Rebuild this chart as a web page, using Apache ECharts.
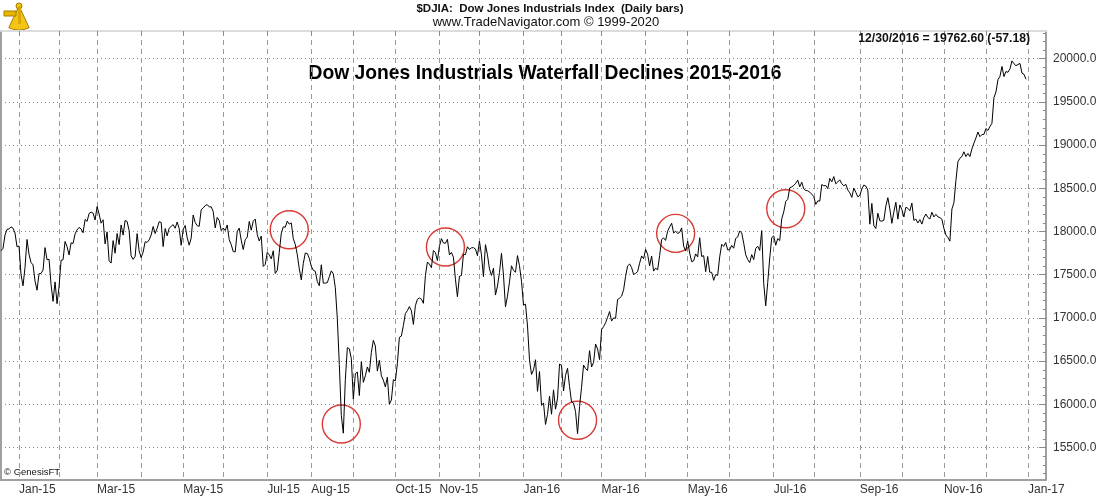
<!DOCTYPE html>
<html><head><meta charset="utf-8">
<script src="https://cdn.jsdelivr.net/npm/echarts@6/dist/echarts.min.js"></script>
<style>html,body{margin:0;padding:0;background:#fff}#c{width:1101px;height:499px}</style>
</head><body><div id="c"></div>
<script>
// ---- Daily closes, [day of month, close] per month ----
const dec14 = [[18,17778],[19,17805],[22,17959],[23,18024],[24,18030],[26,18054],[29,18038],[30,17983],[31,17823]];
const jan15 = [[2,17833],[5,17502],[6,17372],[7,17585],[8,17908],[9,17737],[12,17641],[13,17614],[14,17427],[15,17321],[16,17512],[20,17515],[21,17554],[22,17814],[23,17673],[26,17679],[27,17387],[28,17191],[29,17417],[30,17165]];
const feb15 = [[2,17361],[3,17666],[4,17673],[5,17885],[6,17824],[9,17729],[10,17869],[11,17862],[12,17972],[13,18019],[17,18048],[18,18030],[19,17986],[20,18140],[23,18117],[24,18209],[25,18225],[26,18214],[27,18133]];
const mar15 = [[2,18289],[3,18203],[4,18097],[5,18136],[6,17857],[9,17996],[10,17663],[11,17635],[12,17895],[13,17749],[16,17977],[17,17849],[18,18076],[19,17959],[20,18128],[23,18116],[24,18011],[25,17719],[26,17678],[27,17713],[30,17976],[31,17776]];
const apr15 = [[1,17698],[2,17763],[6,17881],[7,17875],[8,17903],[9,17959],[10,18058],[13,17977],[14,18037],[15,18113],[16,18106],[17,17826],[20,18035],[21,17950],[22,18038],[23,18059],[24,18080],[27,18038],[28,18110],[29,18036],[30,17841]];
const may15 = [[1,18024],[4,18070],[5,17928],[6,17842],[7,17924],[8,18191],[11,18105],[12,18068],[13,18060],[14,18252],[15,18273],[18,18299],[19,18312],[20,18285],[21,18286],[22,18232],[26,18042],[27,18163],[28,18126],[29,18011]];
const jun15 = [[1,18040],[2,18012],[3,18076],[4,17906],[5,17849],[8,17767],[9,17764],[10,18000],[11,18039],[12,17899],[15,17791],[16,17904],[17,17936],[18,18116],[19,18016],[22,18120],[23,18144],[24,17966],[25,17890],[26,17947],[29,17596],[30,17620]];
const jul15 = [[1,17758],[2,17730],[6,17684],[7,17777],[8,17515],[9,17549],[10,17760],[13,17978],[14,18054],[15,18050],[16,18120],[17,18086],[20,18100],[21,17919],[22,17851],[23,17732],[24,17569],[27,17441],[28,17630],[29,17751],[30,17746],[31,17690]];
const aug15 = [[3,17598],[4,17551],[5,17540],[6,17420],[7,17373],[10,17615],[11,17403],[12,17403],[13,17408],[14,17477],[17,17545],[18,17511],[19,17349],[20,16991],[21,16460],[24,15871],[25,15666],[26,16286],[27,16655],[28,16643],[31,16528]];
const sep15 = [[1,16058],[2,16351],[3,16375],[4,16102],[8,16493],[9,16254],[10,16330],[11,16433],[14,16371],[15,16600],[16,16740],[17,16675],[18,16385],[21,16510],[22,16330],[23,16280],[24,16201],[25,16315],[28,16002],[29,16049],[30,16285]];
const oct15 = [[1,16272],[2,16472],[5,16776],[6,16790],[7,16912],[8,17051],[9,17084],[12,17132],[13,17082],[14,16925],[15,17142],[16,17216],[19,17231],[20,17217],[21,17169],[22,17489],[23,17647],[26,17623],[27,17581],[28,17780],[29,17756],[30,17664]];
const nov15 = [[2,17829],[3,17918],[4,17868],[5,17863],[6,17910],[9,17730],[10,17758],[11,17702],[12,17448],[13,17245],[16,17483],[17,17490],[18,17737],[19,17733],[20,17824],[23,17793],[24,17812],[25,17813],[27,17798],[30,17720]];
const dec15 = [[1,17888],[2,17730],[3,17478],[4,17848],[7,17731],[8,17568],[9,17492],[10,17575],[11,17265],[14,17369],[15,17525],[16,17749],[17,17496],[18,17129],[21,17252],[22,17417],[23,17603],[24,17552],[28,17528],[29,17721],[30,17604],[31,17425]];
const jan16 = [[4,17149],[5,17159],[6,16907],[7,16514],[8,16346],[11,16399],[12,16516],[13,16151],[14,16379],[15,15988],[19,16016],[20,15767],[21,15883],[22,16094],[25,15885],[26,16167],[27,15944],[28,16070],[29,16466]];
const feb16 = [[1,16449],[2,16154],[3,16337],[4,16417],[5,16205],[8,16027],[9,16014],[10,15915],[11,15660],[12,15974],[16,16196],[17,16454],[18,16413],[19,16392],[22,16621],[23,16432],[24,16485],[25,16697],[26,16640],[29,16517]];
const mar16 = [[1,16865],[2,16899],[3,16944],[4,17007],[7,17074],[8,16964],[9,17000],[10,16995],[11,17213],[14,17229],[15,17252],[16,17326],[17,17481],[18,17602],[21,17624],[22,17583],[23,17503],[24,17516],[28,17535],[29,17633],[30,17717],[31,17685]];
const apr16 = [[1,17793],[4,17737],[5,17603],[6,17716],[7,17542],[8,17577],[11,17556],[12,17721],[13,17908],[14,17926],[15,17897],[18,18004],[19,18054],[20,18096],[21,17983],[22,18004],[25,17977],[26,17990],[27,18042],[28,17831],[29,17774]];
const may16 = [[2,17891],[3,17751],[4,17651],[5,17661],[6,17741],[9,17706],[10,17928],[11,17711],[12,17721],[13,17535],[16,17711],[17,17530],[18,17527],[19,17435],[20,17501],[23,17493],[24,17706],[25,17852],[26,17828],[27,17873],[31,17787]];
const jun16 = [[1,17790],[2,17839],[3,17807],[6,17920],[7,17938],[8,18005],[9,17985],[10,17865],[13,17732],[14,17675],[15,17640],[16,17733],[17,17675],[20,17805],[21,17830],[22,17781],[23,18011],[24,17401],[27,17140],[28,17410],[29,17695],[30,17930]];
const jul16 = [[1,17949],[5,17841],[6,17919],[7,17896],[8,18147],[11,18227],[12,18348],[13,18372],[14,18506],[15,18517],[18,18533],[19,18559],[20,18595],[21,18517],[22,18571],[25,18493],[26,18474],[27,18472],[28,18456],[29,18432]];
const aug16 = [[1,18405],[2,18314],[3,18355],[4,18352],[5,18544],[8,18529],[9,18533],[10,18496],[11,18614],[12,18576],[15,18636],[16,18552],[17,18574],[18,18598],[19,18553],[22,18529],[23,18547],[24,18481],[25,18448],[26,18395],[29,18503],[30,18454],[31,18401]];
const sep16 = [[1,18419],[2,18492],[6,18538],[7,18526],[8,18480],[9,18085],[12,18325],[13,18067],[14,18035],[15,18212],[16,18124],[19,18120],[20,18130],[21,18294],[22,18392],[23,18261],[26,18095],[27,18228],[28,18339],[29,18143],[30,18308]];
const oct16 = [[3,18254],[4,18168],[5,18281],[6,18269],[7,18240],[10,18329],[11,18129],[12,18144],[13,18099],[14,18138],[17,18086],[18,18162],[19,18203],[20,18162],[21,18146],[24,18223],[25,18169],[26,18199],[27,18170],[28,18161],[31,18142]];
const nov16 = [[1,18037],[2,17960],[3,17931],[4,17888],[7,18260],[8,18333],[9,18590],[10,18808],[11,18848],[14,18869],[15,18923],[16,18868],[17,18904],[18,18868],[21,18957],[22,19024],[23,19083],[25,19152],[28,19098],[29,19122],[30,19124]];
const dec16 = [[1,19192],[2,19170],[5,19216],[6,19252],[7,19550],[8,19615],[9,19757],[12,19796],[13,19911],[14,19793],[15,19852],[16,19843],[19,19883],[20,19975],[21,19942],[22,19919],[23,19934],[27,19945],[28,19834],[29,19820],[30,19763]];

const monthKeys = ['2014-12','2015-01','2015-02','2015-03','2015-04','2015-05','2015-06','2015-07','2015-08','2015-09','2015-10','2015-11','2015-12',
                   '2016-01','2016-02','2016-03','2016-04','2016-05','2016-06','2016-07','2016-08','2016-09','2016-10','2016-11','2016-12'];
const monthRows = [dec14,jan15,feb15,mar15,apr15,may15,jun15,jul15,aug15,sep15,oct15,nov15,dec15,
                   jan16,feb16,mar16,apr16,may16,jun16,jul16,aug16,sep16,oct16,nov16,dec16];
// empty trading sessions shown after the last bar
const padDates = ['2017-01-03','2017-01-04','2017-01-05','2017-01-06','2017-01-09','2017-01-10','2017-01-11','2017-01-12','2017-01-13','2017-01-17'];

// axis labels
const xLabelMonths = ['2015-01','2015-03','2015-05','2015-07','2015-08','2015-10','2015-11','2016-01','2016-03','2016-05','2016-07','2016-09','2016-11','2017-01'];
const xLabelTexts  = ['Jan-15','Mar-15','May-15','Jul-15','Aug-15','Oct-15','Nov-15','Jan-16','Mar-16','May-16','Jul-16','Sep-16','Nov-16','Jan-17'];
const yTicks = [15500,16000,16500,17000,17500,18000,18500,19000,19500,20000];
const yMin = 15124, yMax = 20321;

// red circle annotations
const circleDates  = ['2015-07-17','2015-08-24','2015-11-05','2016-02-11','2016-04-22','2016-07-12'];
const circleValues = [18020,15772,17821,15815,17979,18263];

// texts
const headerLine1 = '$DJIA:  Dow Jones Industrials Index  (Daily bars)';
const headerLine2 = 'www.TradeNavigator.com \u00a9 1999-2020';
const lastValueText = '12/30/2016 = 19762.60 (-57.18)';
const chartTitle = 'Dow Jones Industrials Waterfall Declines 2015-2016';
const copyrightText = '\u00a9 GenesisFT';

// ---- build category axis + series ----
const dates = [], closes = [];
monthRows.forEach((rows, k) => rows.forEach(([d, v]) => {
  dates.push(monthKeys[k] + '-' + String(d).padStart(2, '0'));
  closes.push(v);
}));
padDates.forEach(d => { dates.push(d); closes.push(null); });

const monthStart = dates.map((d, i) => i > 0 && d.slice(0, 7) !== dates[i - 1].slice(0, 7));
const labelAt = {};
dates.forEach((d, i) => {
  if (!monthStart[i]) return;
  const k = xLabelMonths.indexOf(d.slice(0, 7));
  if (k >= 0) labelAt[i] = xLabelTexts[k];
});
const minorTicks = [];
for (let v = 15200; v <= 20300; v += 100) if (yTicks.indexOf(v) < 0) minorTicks.push(v);

const FONT = 'Liberation Sans, Arial, sans-serif';
const chart = echarts.init(document.getElementById('c'), null, {renderer: 'canvas'});
chart.setOption({
  animation: false,
  backgroundColor: '#fff',
  grid: {left: 1, right: 55, top: 31, bottom: 19, containLabel: false},
  xAxis: [{
    type: 'category', data: dates, boundaryGap: false, position: 'bottom',
    axisLine: {show: true, lineStyle: {color: '#a0a0a0', width: 2}},
    axisTick: {show: false},
    axisLabel: {
      interval: (i) => labelAt[i] !== undefined,
      formatter: (v, i) => labelAt[i] || '',
      align: 'left', margin: 4, color: '#333', fontSize: 12, fontFamily: FONT
    },
    splitLine: {show: true, interval: (i) => monthStart[i], lineStyle: {color: '#9a9a9a', width: 1, type: [5, 4]}}
  }, {
    type: 'category', data: dates, boundaryGap: false, position: 'top',
    axisLine: {show: true, lineStyle: {color: '#dcdcdc', width: 2}},
    axisTick: {show: true, inside: true, length: 4, interval: (i) => monthStart[i], lineStyle: {color: '#888'}},
    axisLabel: {show: false}, splitLine: {show: false}
  }],
  yAxis: [{
    type: 'value', position: 'right', min: yMin, max: yMax,
    axisLine: {show: true, lineStyle: {color: '#a0a0a0', width: 2}},
    axisTick: {show: true, inside: true, length: 7, customValues: yTicks, lineStyle: {color: '#888'}},
    axisLabel: {customValues: yTicks, formatter: (v) => v.toFixed(1), color: '#333', fontSize: 12, fontFamily: FONT, margin: 7},
    splitLine: {show: true, lineStyle: {color: '#8a8a8a', width: 1, type: [1, 3]}}
  }, {
    type: 'value', position: 'right', min: yMin, max: yMax,
    axisLine: {show: false},
    axisTick: {show: true, inside: true, length: 3, customValues: minorTicks, lineStyle: {color: '#888'}},
    axisLabel: {show: false}, splitLine: {show: false}
  }, {
    type: 'value', position: 'left', min: yMin, max: yMax,
    axisLine: {show: true, lineStyle: {color: '#a0a0a0', width: 2}},
    axisTick: {show: false}, axisLabel: {show: false}, splitLine: {show: false}
  }],
  series: [{
    type: 'line', data: closes, xAxisIndex: 0, yAxisIndex: 0,
    showSymbol: false, symbol: 'none', connectNulls: false,
    lineStyle: {color: '#000', width: 1}, z: 5,
    markPoint: {
      symbol: 'circle', symbolSize: 38, silent: true,
      itemStyle: {color: 'rgba(0,0,0,0)', borderColor: '#d83a34', borderWidth: 1.4},
      label: {show: false},
      data: circleDates.map((d, k) => ({coord: [d, circleValues[k]]}))
    }
  }],
  graphic: [
    {type: 'text', x: 550, y: 9, style: {text: headerLine1, font: 'bold 11.5px ' + FONT, fill: '#111', align: 'center', verticalAlign: 'middle'}},
    {type: 'text', x: 546, y: 22, style: {text: headerLine2, font: '13px ' + FONT, fill: '#111', align: 'center', verticalAlign: 'middle'}},
    {type: 'text', x: 1030, y: 38.5, z: 20, style: {text: lastValueText, font: 'bold 12.2px ' + FONT, fill: '#111', align: 'right', verticalAlign: 'middle'}},
    {type: 'text', x: 545, y: 74, style: {text: chartTitle, font: 'bold 19.3px ' + FONT, fill: '#000', align: 'center', verticalAlign: 'middle'}},
    {type: 'text', x: 4, y: 472, style: {text: copyrightText, font: '9.5px ' + FONT, fill: '#111', align: 'left', verticalAlign: 'middle'}},
    {type: 'group', x: 2, y: 2, children: [
      {type: 'sector', shape: {cx: 17, cy: 4, r0: 0, r: 24, startAngle: Math.PI * 0.36, endAngle: Math.PI * 0.64},
       style: {fill: '#f3c514', stroke: '#a77d00', lineWidth: 1}},
      {type: 'rect', shape: {x: 2, y: 9, width: 12, height: 5}, style: {fill: '#e8b800', stroke: '#a77d00', lineWidth: 1}},
      {type: 'circle', shape: {cx: 17, cy: 4, r: 3}, style: {fill: '#f3c514', stroke: '#a77d00', lineWidth: 1}},
      {type: 'rect', shape: {x: 16, y: 4, width: 3, height: 18}, style: {fill: '#d9a900'}}
    ]}
  ]
});
</script></body></html>
